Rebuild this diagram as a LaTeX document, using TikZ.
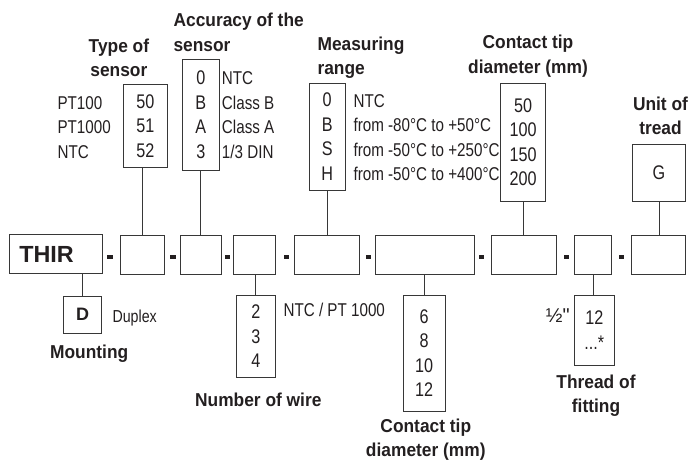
\documentclass[tikz,border=0pt]{standalone}
\usepackage{fontspec}
\setmainfont{Liberation Sans}[FakeStretch=0.82]
\newfontfamily\headfont{Liberation Sans}[FakeStretch=0.93]
\newfontfamily\codefont{Liberation Sans}
\definecolor{ink}{RGB}{35,31,32}
\definecolor{rule}{RGB}{55,55,55}
\newdimen\px \px=0.75pt

\begin{document}
\begin{tikzpicture}[
      x=0.75pt, y=-0.75pt,
      every node/.style={text=ink, inner sep=0pt},
      lbl/.style={font=\fontsize{13.9}{18.4}\selectfont, align=left},
      head/.style={font=\headfont\bfseries\fontsize{14}{18.4}\selectfont},
      mainbox/.style={draw=rule, line width=0.8\px, minimum height=39\px},
      optbox/.style={draw=rule, line width=0.8\px, align=center, font=\fontsize{14.8}{18.4}\selectfont},
      dashmark/.style={fill=ink, minimum width=5.4\px, minimum height=3.3\px},
      link/.style={draw=rule, line width=0.8\px}
    ]
      \useasboundingbox (0,0) rectangle (689,461);

      % Row 0: Code boxes
      \node[mainbox, minimum height=39.4\px, text width=72.4\px, inner xsep=10.3\px, align=left,
            font=\codefont\bfseries\fontsize{17.5}{21}\selectfont] (thir) at (55.5,254) {THIR};
      \node[mainbox, minimum width=43.7\px] (type) at (142.2,255.2) {};
      \node[mainbox, minimum width=41.4\px] (acc) at (201,255.2) {};
      \node[mainbox, minimum width=42.4\px] (wire) at (254.5,255.2) {};
      \node[mainbox, minimum width=65.4\px] (range) at (327,255.2) {};
      \node[mainbox, minimum width=99\px] (tipb) at (424.5,255.2) {};
      \node[mainbox, minimum width=65.3\px] (tipt) at (523.7,255.2) {};
      \node[mainbox, minimum width=37.4\px] (thread) at (593,255.2) {};
      \node[mainbox, minimum width=54.3\px] (unit) at (658.2,255.2) {};

      % separators
      \foreach \x/\n in {110/1, 173/2, 227.7/3, 286.7/4, 368.3/5, 481.7/6, 566.7/7, 621.3/8}
        \node[dashmark] (dash\n) at (\x,257) {};

      % Options above
      \node[optbox, minimum width=43.3\px, minimum height=83.4\px] (typeopt) at (145.3,126) {50\\51\\52};
      \node[lbl, anchor=west] (typelbl) at (57.3,127.2) {PT100\\PT1000\\NTC};
      \node[head, align=center] (typehd) at (118.9,57.9) {Type of\\sensor};

      \node[optbox, minimum width=36.3\px, minimum height=110.7\px] (accopt) at (200.8,114.7) {0\\B\\A\\3};
      \node[lbl, anchor=west] (acclbl) at (221.7,115) {NTC\\Class B\\Class A\\1/3 DIN};
      \node[head, align=left, anchor=west] (acchd) at (173.3,32.2) {Accuracy of the\\sensor};

      \node[optbox, minimum width=36.3\px, minimum height=106.7\px] (rangeopt) at (327.2,136.7) {0\\B\\S\\H};
      \node[lbl, anchor=west] (rangelbl) at (353.3,137.5)
        {NTC\\from -80°C to +50°C\\from -50°C to +250°C\\from -50°C to +400°C};
      \node[head, align=left, anchor=west] (rangehd) at (317.3,57.8) {Measuring\\range};

      \node[optbox, minimum width=44.6\px, minimum height=117.7\px] (tipopt) at (523,142.2) {50\\100\\150\\200};
      \node[head, align=center] (tiphd) at (528,56.2) {Contact tip\\diameter (mm)};

      \node[optbox, minimum width=53.4\px, minimum height=56.7\px] (unitopt) at (659,172.7) {G};
      \node[head, align=center] (unithd) at (660.5,115.8) {Unit of\\tread};

      % Options below
      \node[optbox, minimum width=38.4\px, minimum height=37.3\px,
            font=\codefont\bfseries\fontsize{13.5}{16}\selectfont] (mountopt) at (82.5,314.7) {D};
      \node[lbl, anchor=base west, font=\fontsize{13}{16}\selectfont] (mountlbl) at (112.3,322.7) {Duplex};
      \node[head, anchor=base] (mounthd) at (89.2,358.3) {Mounting};

      \node[optbox, minimum width=38.3\px, minimum height=82.3\px] (wireopt) at (255.8,336.2) {2\\3\\4};
      \node[lbl, anchor=base west] (wirelbl) at (283.3,316.7) {NTC / PT 1000};
      \node[head, anchor=base] (wirehd) at (258.3,406) {Number of wire};

      \node[optbox, minimum width=41.7\px, minimum height=116.7\px] (diaopt) at (424.2,353.3) {6\\8\\10\\12};
      \node[head, align=center] (diahd) at (425.8,439.5) {Contact tip\\diameter (mm)};

      \node[optbox, minimum width=40\px, minimum height=70.7\px] (threadopt) at (594.3,330.3) {12\\...*};
      \node[anchor=base east, font=\codefont\fontsize{15}{18.4}\selectfont] (threadlbl) at (570,322) {½"};
      \node[head, align=center] (threadhd) at (596,395.9) {Thread of\\fitting};

      % === LINKS ===
      \draw[link] (type.north) -- (type.north |- typeopt.south);
      \draw[link] (accopt.south) -- (accopt.south |- acc.north);
      \draw[link] (rangeopt.south) -- (rangeopt.south |- range.north);
      \draw[link] (tipopt.south) -- (tipopt.south |- tipt.north);
      \draw[link] (unitopt.south) -- (unitopt.south |- unit.north);

      \draw[link] (mountopt.north) -- (mountopt.north |- thir.south);
      \draw[link] (wireopt.north) -- (wireopt.north |- wire.south);
      \draw[link] (diaopt.north) -- (diaopt.north |- tipb.south);
      \draw[link] (thread.south) -- (thread.south |- threadopt.north);
    \end{tikzpicture}
\end{document}
